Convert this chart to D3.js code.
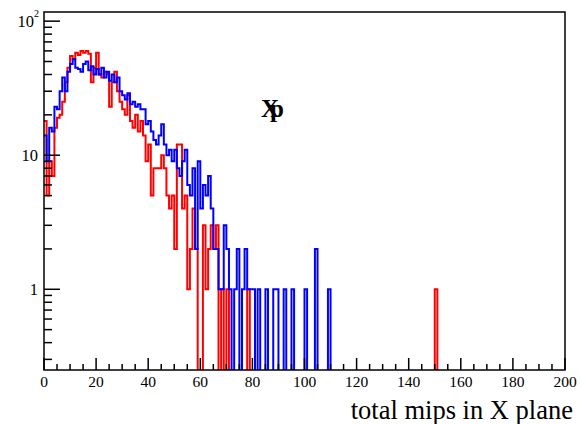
<!DOCTYPE html>
<html>
<head>
<meta charset="utf-8">
<script src="https://cdn.jsdelivr.net/npm/d3@7"></script>
<style>
  body { margin: 0; background: #fff; }
  svg { display: block; }
  text { font-family: "Liberation Serif", "DejaVu Serif", serif; }
</style>
</head>
<body>
<svg></svg>
<script>
// bin counts, 1 unit wide bins starting at 0
const redCounts = [
  18, 5, 9, 7, 16, 19, 20, 25, 35, 45,
  55, 52, 58, 56, 60, 58, 60, 57, 35, 45,
  58, 40, 38, 42, 40, 23, 35, 42, 30, 25,
  22, 20, 28, 18, 16, 20, 15, 18, 14, 9,
  12, 5, 8, 8, 8, 10, 8, 5, 4, 5,
  2, 12, 12, 4, 5, 1, 2, 4, 2, 0,
  0, 3, 1, 2, 3, 2, 3, 0, 1, 0,
  1, 0, 0, 0, 0, 0, 0, 0, 1, 0
];
const redExtra = [[150, 1]];

const blueCounts = [
  14, 9, 16, 15, 23, 22, 30, 38, 30, 42,
  48, 52, 45, 44, 42, 48, 50, 43, 46, 40,
  44, 40, 45, 38, 42, 36, 40, 35, 38, 30,
  28, 26, 29, 24, 25, 23, 24, 22, 22, 17,
  18, 15, 13, 12, 14, 17, 12, 10, 11, 9,
  11, 8, 7, 9, 11, 6, 5, 8, 2, 9,
  4, 6, 5, 7, 4, 2, 2, 1, 1, 3,
  2, 1, 0, 1, 2, 0, 1, 2, 1, 1,
  1, 0, 1, 0, 0, 1, 0, 0, 1, 1,
  0, 0, 1, 0, 0, 1, 0, 0, 0, 0,
  1, 0, 0, 0, 2, 0, 0, 0, 0, 1
];

const xTicks = [0, 20, 40, 60, 80, 100, 120, 140, 160, 180, 200];
const yTicks = [1, 10, 100];

const margin = { t: 12, r: 16, b: 54, l: 44 };
const size = { w: 581, h: 424 };
const width = size.w - margin.l - margin.r;
const height = size.h - margin.t - margin.b;

const svg = d3.select("svg").attr("width", size.w).attr("height", size.h);

const x = d3.scaleLinear().domain([0, 200]).range([0, width]);
const y = d3.scaleLog().domain([0.25, 117]).range([height, 0]);

const g = svg.append("g").attr("transform", `translate(${margin.l},${margin.t})`);

g.append("clipPath").attr("id", "clip")
  .append("rect").attr("width", width).attr("height", height);

function fullBins(counts, extra) {
  const bins = d3.range(200).map(i => (i < counts.length ? counts[i] : 0));
  (extra || []).forEach(e => { bins[e[0]] = e[1]; });
  return bins;
}

function stepPath(bins) {
  const yv = v => (v > 0 ? y(v) : height + 3);
  let p = `M${x(0)},${yv(bins[0])}`;
  bins.forEach((v, i) => {
    if (i > 0) p += `L${x(i)},${yv(v)}`;
    p += `L${x(i + 1)},${yv(v)}`;
  });
  return p;
}

const histG = g.append("g").attr("clip-path", "url(#clip)");

histG.append("path")
  .attr("d", stepPath(fullBins(redCounts, redExtra)))
  .attr("fill", "none").attr("stroke", "#ff0000").attr("stroke-width", 2);

histG.append("path")
  .attr("d", stepPath(fullBins(blueCounts)))
  .attr("fill", "none").attr("stroke", "#0000ff").attr("stroke-width", 2);

// frame
g.append("rect").attr("width", width).attr("height", height)
  .attr("fill", "none").attr("stroke", "#000").attr("stroke-width", 1.5);

// x axis ticks (inward)
const xMinor = d3.range(0, 201, 5);
g.selectAll(".xtick").data(xMinor).enter().append("line")
  .attr("x1", d => x(d)).attr("x2", d => x(d))
  .attr("y1", height)
  .attr("y2", d => height - (d % 20 === 0 ? 12 : 6))
  .attr("stroke", "#000").attr("stroke-width", 1.5);

g.selectAll(".xlab").data(xTicks).enter().append("text")
  .attr("x", d => x(d)).attr("y", height + 17)
  .attr("text-anchor", "middle").attr("font-size", 15.5)
  .text(d => d);

// y axis ticks (inward, log)
const yMinor = [];
[0.1, 1, 10].forEach(dec => {
  for (let k = 2; k <= 9; k++) {
    const v = dec * k;
    if (v >= 0.25 && v <= 117) yMinor.push(v);
  }
});
g.selectAll(".ymin").data(yMinor).enter().append("line")
  .attr("x1", 0).attr("x2", 8)
  .attr("y1", d => y(d)).attr("y2", d => y(d))
  .attr("stroke", "#000").attr("stroke-width", 1.5);
g.selectAll(".ymaj").data(yTicks).enter().append("line")
  .attr("x1", 0).attr("x2", 16)
  .attr("y1", d => y(d)).attr("y2", d => y(d))
  .attr("stroke", "#000").attr("stroke-width", 1.5);

yTicks.forEach(v => {
  const t = g.append("text")
    .attr("x", v === 100 ? -10 : -6).attr("y", y(v) + 6)
    .attr("text-anchor", "end").attr("font-size", 16.5);
  if (v === 100) {
    t.text("10");
    g.append("text").attr("x", -10).attr("y", y(v) - 4)
      .attr("font-size", 10).text("2");
  } else {
    t.text(v);
  }
});

// axis title
svg.append("text")
  .attr("x", 573).attr("y", 419)
  .attr("text-anchor", "end").attr("font-size", 26.5)
  .text("total mips in X plane");

// overlapping labels in the pad, drawn as one text
svg.append("text").attr("x", 261).attr("y", 117)
  .attr("font-size", 25).attr("font-weight", "bold")
  .attr("letter-spacing", -9).text("Xp");
</script>
</body>
</html>
